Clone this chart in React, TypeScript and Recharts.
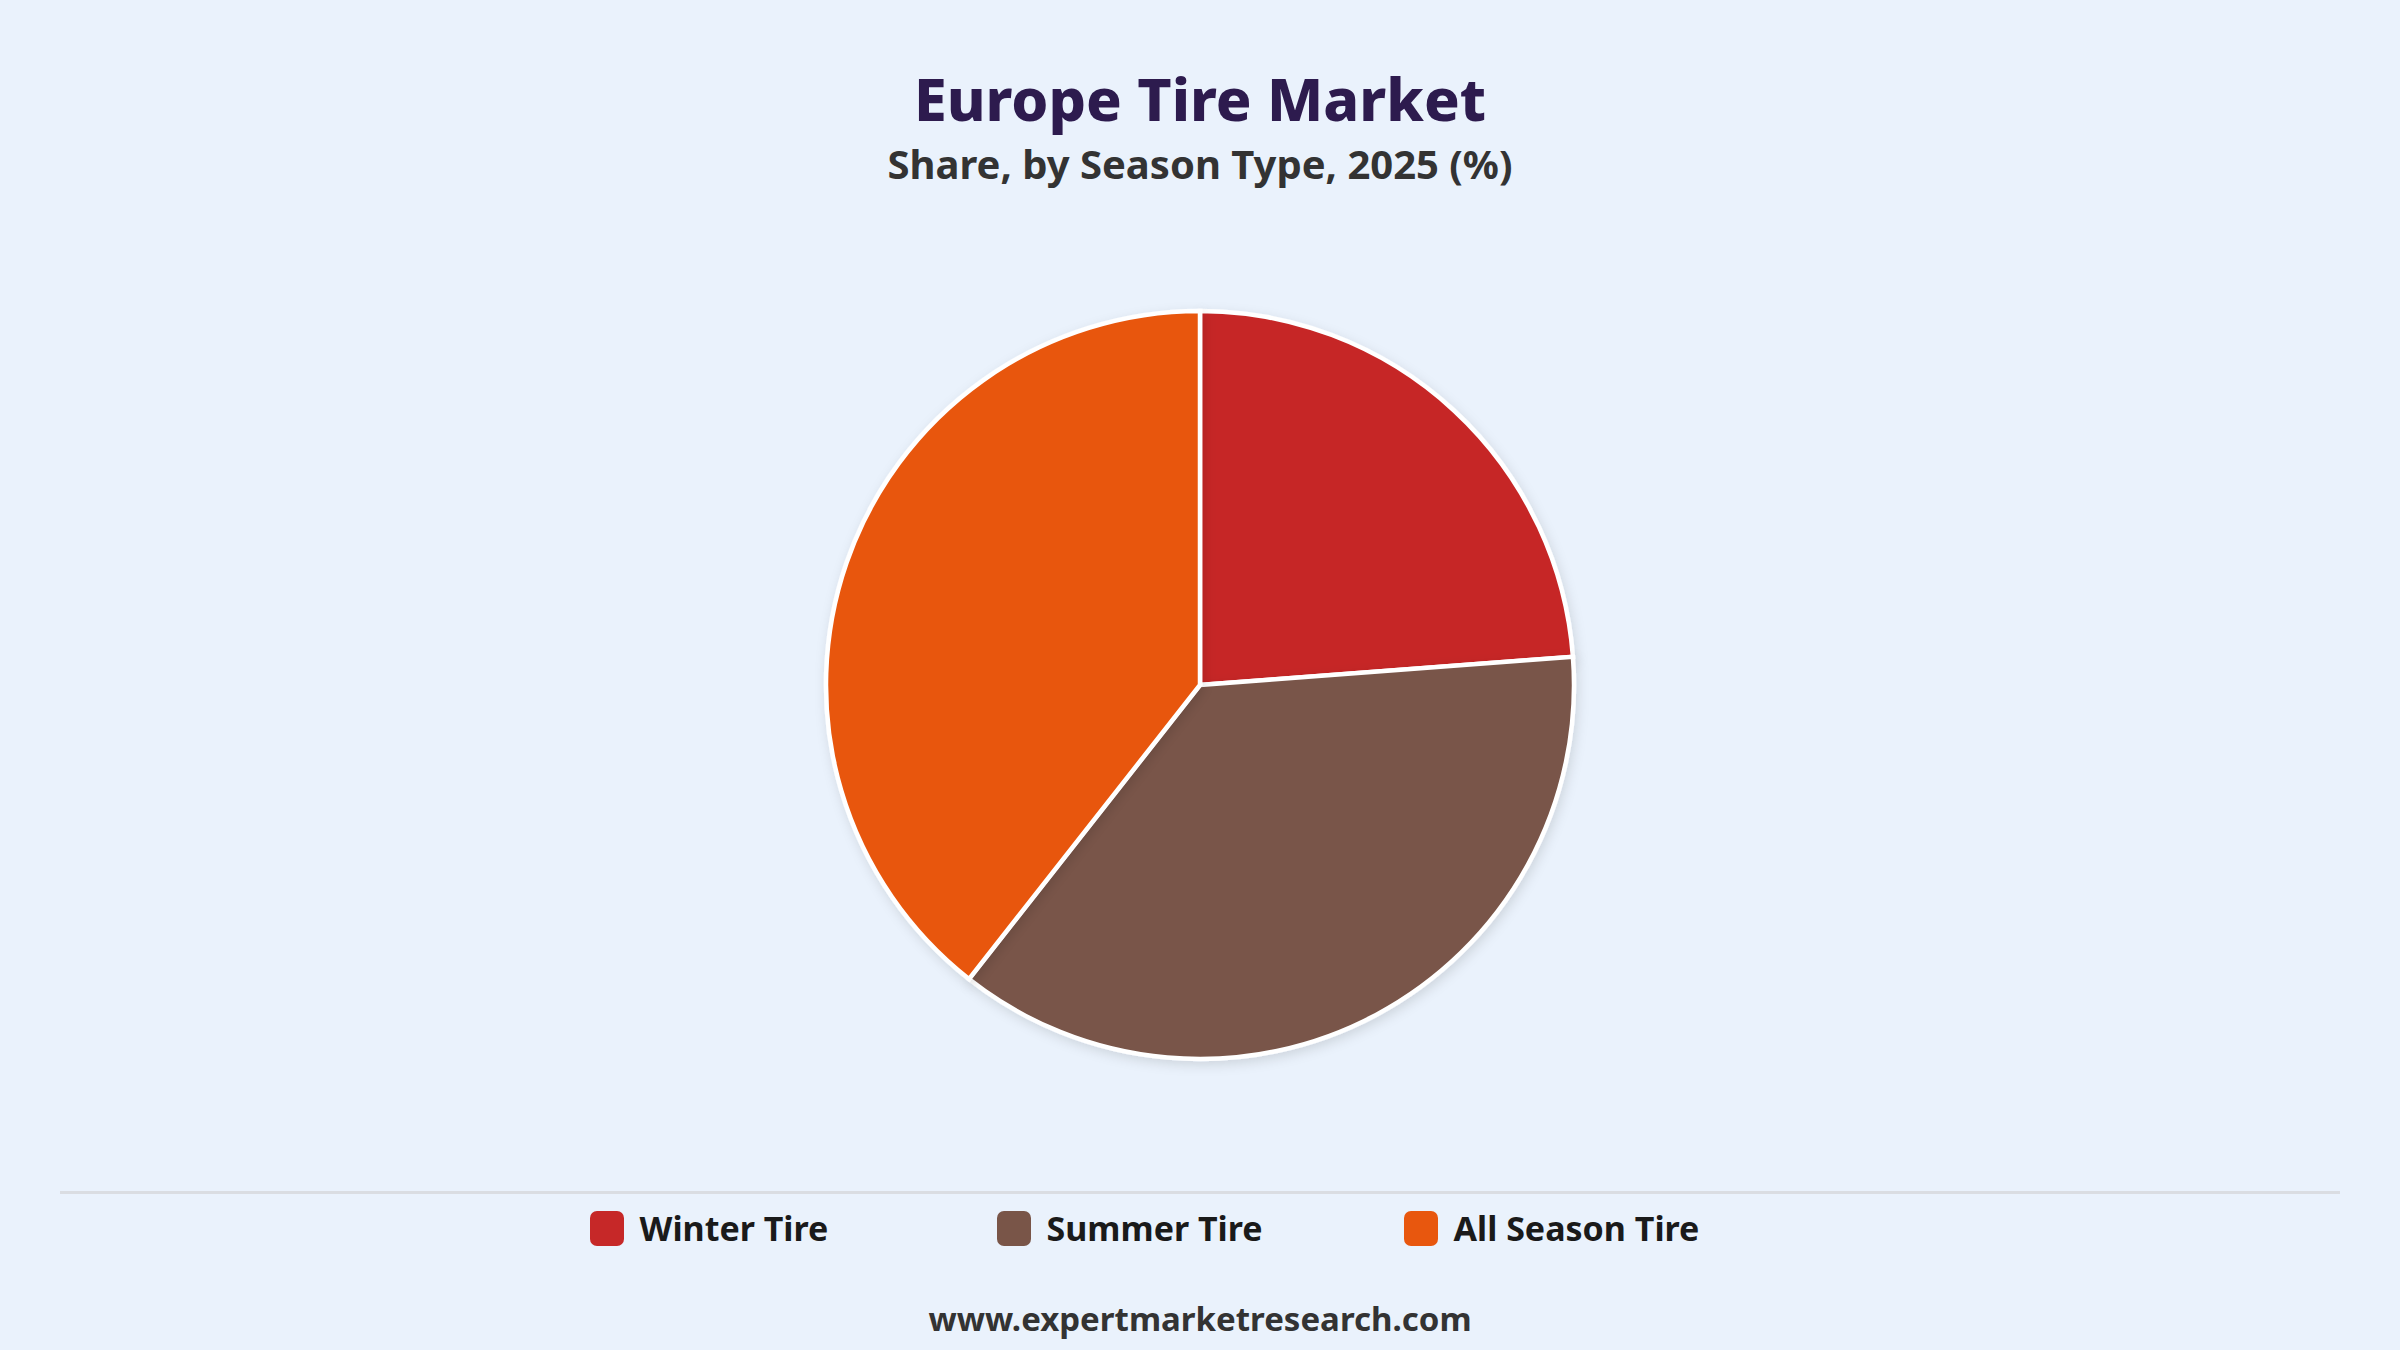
import { PieChart, Pie, Cell, Legend } from "recharts";

const segments = ["Winter Tire", "Summer Tire", "All Season Tire"];
const shares = [23.8, 36.8, 39.4];
const colors = ["#C62828", "#795548", "#E8570E"];

const data = segments.map((name, i) => ({ name, value: shares[i] }));

const FONT = "'Noto Sans', 'Open Sans', sans-serif";

const LegendRow = () => (
  <div
    style={{
      display: "flex",
      justifyContent: "center",
      fontFamily: FONT,
    }}
  >
    {segments.map((name, i) => (
      <div
        key={name}
        style={{ width: 407, display: "flex", alignItems: "center" }}
      >
        <span
          style={{
            width: 34,
            height: 35,
            borderRadius: 7,
            background: colors[i],
            display: "inline-block",
            marginRight: 16,
          }}
        />
        <span style={{ fontSize: 34, fontWeight: 700, color: "#1a1a1a" }}>
          {name}
        </span>
      </div>
    ))}
  </div>
);

export default function App() {
  return (
    <div
      style={{
        position: "fixed",
        left: 0,
        top: 0,
        width: 2400,
        height: 1350,
        background: "#EAF2FC",
        fontFamily: FONT,
      }}
    >
      <div
        style={{
          position: "absolute",
          top: 56,
          width: "100%",
          textAlign: "center",
          fontSize: 59,
          fontWeight: 800,
          color: "#2D1B4E",
          lineHeight: "84px",
        }}
      >
        Europe Tire Market
      </div>
      <div
        style={{
          position: "absolute",
          top: 137,
          width: "100%",
          textAlign: "center",
          fontSize: 40,
          fontWeight: 700,
          color: "#333333",
          lineHeight: "54px",
        }}
      >
        Share, by Season Type, 2025 (%)
      </div>
      <div style={{ position: "absolute", left: 0, top: 0 }}>
        <PieChart
          width={2400}
          height={1290}
          margin={{ top: 0, right: 0, bottom: 0, left: 0 }}
        >
          <defs>
            <filter id="pieShadow" x="-20%" y="-20%" width="140%" height="140%">
              <feDropShadow
                dx="2"
                dy="4"
                stdDeviation="6"
                floodColor="#000"
                floodOpacity="0.12"
              />
            </filter>
          </defs>
          <Pie
            data={data}
            dataKey="value"
            nameKey="name"
            cx={1200}
            cy={685}
            outerRadius={374}
            startAngle={90}
            endAngle={-270}
            stroke="#ffffff"
            strokeWidth={4.5}
            isAnimationActive={false}
            style={{ filter: "url(#pieShadow)" }}
          >
            {data.map((entry, i) => (
              <Cell key={entry.name} fill={colors[i]} />
            ))}
          </Pie>
          <Legend
            verticalAlign="bottom"
            align="center"
            content={() => <LegendRow />}
            wrapperStyle={{ bottom: 39, left: 0, width: 2400 }}
          />
        </PieChart>
      </div>
      <div
        style={{
          position: "absolute",
          left: 60,
          top: 1191,
          width: 2280,
          height: 3,
          background: "#DADDE2",
        }}
      />
      <div
        style={{
          position: "absolute",
          top: 1296,
          width: "100%",
          textAlign: "center",
          fontSize: 33,
          fontWeight: 700,
          color: "#333333",
          lineHeight: "46px",
        }}
      >
        www.expertmarketresearch.com
      </div>
    </div>
  );
}
